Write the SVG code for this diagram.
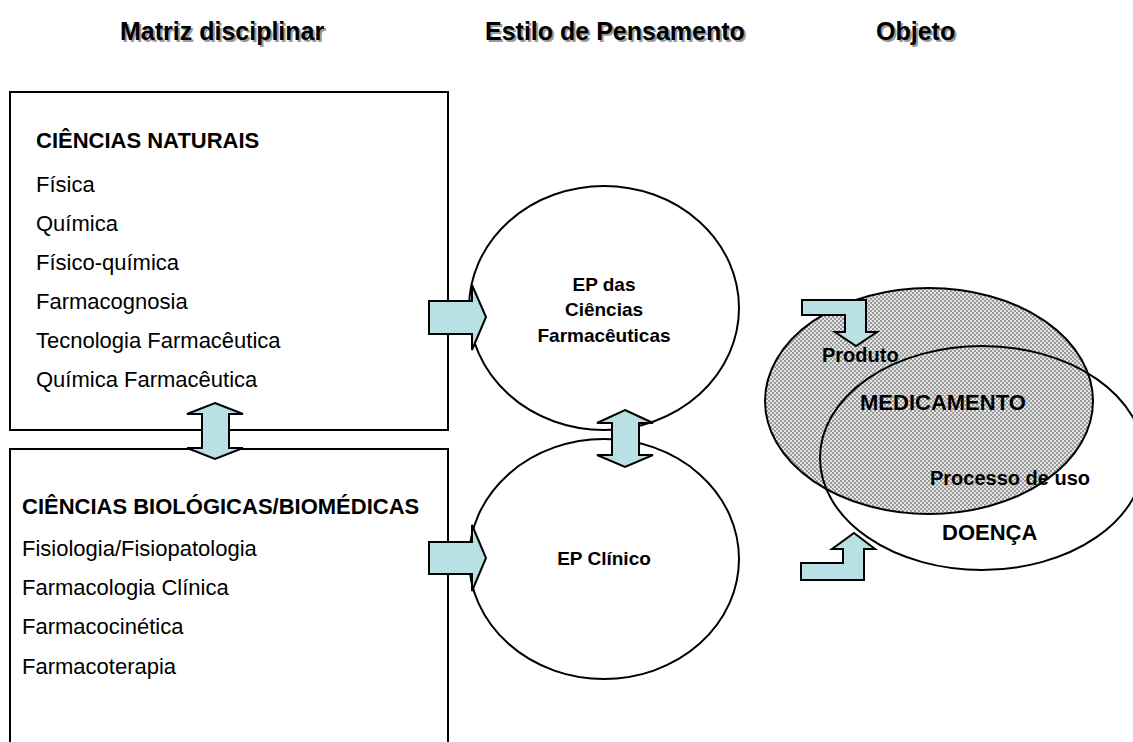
<svg xmlns="http://www.w3.org/2000/svg" width="1133" height="742" viewBox="0 0 1133 742">
<defs>
<style>
.hdr{font-family:"Liberation Sans",Arial,sans-serif;font-weight:bold;font-size:25px}
.sh{fill:#9a9a9a}
.t{font-family:"Liberation Sans",Arial,sans-serif;font-size:22px;fill:#000}
.b{font-family:"Liberation Sans",Arial,sans-serif;font-size:22px;font-weight:bold;fill:#000}
.e{font-family:"Liberation Sans",Arial,sans-serif;font-size:19px;font-weight:bold;fill:#000}
.s{font-family:"Liberation Sans",Arial,sans-serif;font-size:20px;font-weight:bold;fill:#000}
.box{fill:#fff;stroke:#000;stroke-width:2}
.ell{fill:#fff;stroke:#000;stroke-width:2}
.arr{fill:#b9e0e4;stroke:#000;stroke-width:2;stroke-linejoin:miter}
</style>
<pattern id="hatch" width="4" height="4" patternUnits="userSpaceOnUse">
<rect width="4" height="4" fill="#e4e4e4"/>
<rect x="0" y="0" width="2" height="2" fill="#9a9a9a"/>
<rect x="2" y="2" width="2" height="2" fill="#9a9a9a"/>
</pattern>
</defs>
<rect width="1133" height="742" fill="#fff"/>

<g id="headers">
<text class="hdr sh" x="122" y="42">Matriz disciplinar</text>
<text class="hdr" x="120" y="40">Matriz disciplinar</text>
<text class="hdr sh" x="487" y="42">Estilo de Pensamento</text>
<text class="hdr" x="485" y="40">Estilo de Pensamento</text>
<text class="hdr sh" x="878" y="42">Objeto</text>
<text class="hdr" x="876" y="40">Objeto</text>
</g>

<g id="box-naturais">
<rect class="box" x="10" y="92" width="438" height="338"/>
<text class="b" x="36" y="148">CIÊNCIAS NATURAIS</text>
<text class="t" x="36" y="192">Física</text>
<text class="t" x="36" y="231">Química</text>
<text class="t" x="36" y="270">Físico-química</text>
<text class="t" x="36" y="309">Farmacognosia</text>
<text class="t" x="36" y="348">Tecnologia Farmacêutica</text>
<text class="t" x="36" y="387">Química Farmacêutica</text>
</g>

<g id="box-biologicas">
<path class="box" d="M10,742 V449 H448 V742"/>
<text class="b" x="22" y="514">CIÊNCIAS BIOLÓGICAS/BIOMÉDICAS</text>
<text class="t" x="22" y="556">Fisiologia/Fisiopatologia</text>
<text class="t" x="22" y="595">Farmacologia Clínica</text>
<text class="t" x="22" y="634">Farmacocinética</text>
<text class="t" x="22" y="674">Farmacoterapia</text>
</g>

<g id="ep-farmaceuticas">
<ellipse class="ell" cx="604" cy="308" rx="135" ry="122"/>
<text class="e" text-anchor="middle" x="604" y="291">EP das</text>
<text class="e" text-anchor="middle" x="604" y="316">Ciências</text>
<text class="e" text-anchor="middle" x="604" y="342">Farmacêuticas</text>
</g>

<g id="ep-clinico">
<ellipse class="ell" cx="604" cy="559" rx="135" ry="120"/>
<text class="e" text-anchor="middle" x="604" y="565">EP Clínico</text>
</g>

<g id="medicamento">
<ellipse cx="929" cy="401" rx="164" ry="113" fill="url(#hatch)" stroke="#000" stroke-width="2"/>
</g>

<g id="doenca">
<ellipse cx="982" cy="458" rx="162" ry="112" fill="none" stroke="#000" stroke-width="2"/>
</g>

<g id="object-labels">
<text class="s" x="822" y="362">Produto</text>
<text class="b" x="860" y="410">MEDICAMENTO</text>
<text class="s" x="930" y="485">Processo de uso</text>
<text class="b" x="942" y="540">DOENÇA</text>
</g>

<g id="connectors">
<polygon class="arr" points="429,301 472,301 472,285 486,317 472,350 472,334 429,334"/>
<polygon class="arr" points="429,542 472,542 472,525 486,558 472,591 472,574 429,574"/>
<polygon class="arr" points="215,403 243,414 229,414 229,448 243,448 215,459 187,448 202,448 202,414 187,414"/>
<polygon class="arr" points="625,410 653,423 639,423 639,455 653,455 625,467 597,455 612,455 612,423 597,423"/>
<polygon class="arr" points="802,300 866,300 866,332 877,332 856,346 835,332 845,332 845,315 802,315"/>
<polygon class="arr" points="801,563 843,563 843,549 832,549 854,533 875,549 864,549 864,580 801,580"/>
</g>
</svg>
